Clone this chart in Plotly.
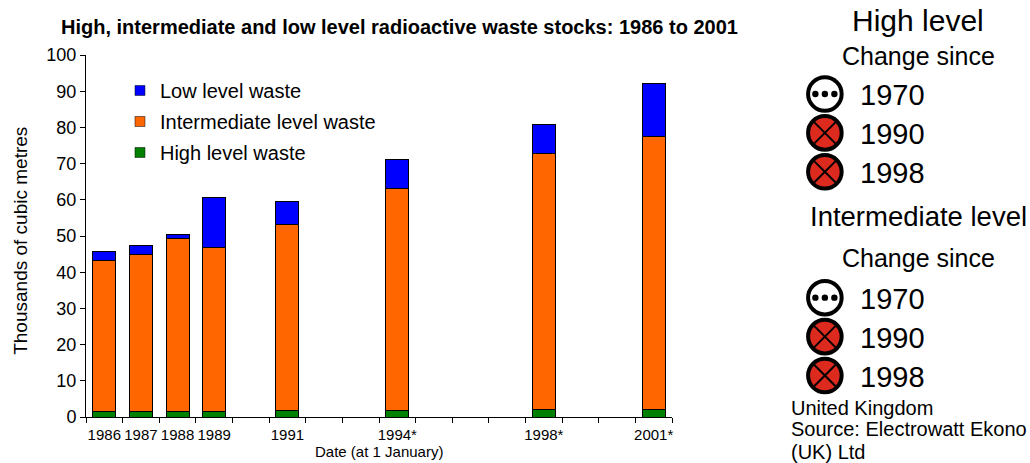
import plotly.graph_objects as go

years = [str(y) for y in range(1986, 2002)]
tick_labels = ["1986", "1987", "1988", "1989", "", "1991", "", "", "1994*", "", "", "", "1998*", "", "", "2001*"]
high = [1.4, 1.6, 1.6, 1.6, None, 1.8, None, None, 1.8, None, None, None, 2.0, None, None, 2.2]
intermediate = [41.7, 43.4, 47.8, 45.2, None, 51.5, None, None, 61.3, None, None, None, 70.7, None, None, 75.3]
low = [2.5, 2.5, 1.0, 13.8, None, 6.2, None, None, 7.9, None, None, None, 8.0, None, None, 14.7]

COL_LOW, COL_INT, COL_HIGH = "#0000FF", "#FF6600", "#008000"
FONT = "Liberation Sans"
W, H = 1030, 463
L, R, T, B = 85.5, 672, 55, 417.5

fx = lambda p: (p - L) / (R - L)
fy = lambda p: (B - p) / (B - T)

fig = go.Figure()
for name, vals, col in [("High level waste", high, COL_HIGH),
                        ("Intermediate level waste", intermediate, COL_INT),
                        ("Low level waste", low, COL_LOW)]:
    fig.add_bar(x=years, y=vals, name=name, marker=dict(color=col, line=dict(color="black", width=1)), showlegend=False)

for name, col in [("Low level waste", COL_LOW), ("Intermediate level waste", COL_INT), ("High level waste", COL_HIGH)]:
    fig.add_scatter(x=[None], y=[None], mode="markers", name=name, legendgroup=name,
                    marker=dict(symbol="square", size=10, color=col, line=dict(color="black", width=0.5)))

shapes, annotations = [], []


def text(x, y, s, size, anchor="left", angle=0):
    annotations.append(dict(x=fx(x), y=fy(y), xref="paper", yref="paper", text=s, showarrow=False, textangle=angle,
                            xanchor=anchor, yanchor="middle", font=dict(size=size, color="black", family=FONT)))


def circle(cx, cy, r, fill, lw):
    shapes.append(dict(type="circle", xref="paper", yref="paper", x0=fx(cx - r), x1=fx(cx + r), y0=fy(cy + r), y1=fy(cy - r),
                       fillcolor=fill, line=dict(color="black", width=lw)))


def line(x0, y0, x1, y1, lw):
    shapes.append(dict(type="line", xref="paper", yref="paper", x0=fx(x0), x1=fx(x1), y0=fy(y0), y1=fy(y1),
                       line=dict(color="black", width=lw)))


def icon_dots(cy):
    circle(825, cy, 16.8, "white", 4)
    for dx in (-9.5, 0, 9.5):
        circle(825 + dx, cy, 3.2, "black", 0)


def icon_cross(cy):
    circle(825, cy, 16.8, "#DC2A1E", 4)
    line(825 - 10.5, cy - 10.5, 825 + 10.5, cy + 10.5, 2)
    line(825 - 10.5, cy + 10.5, 825 + 10.5, cy - 10.5, 2)


text(918, 20, "High level", 30, "center")
text(919, 56, "Change since", 25, "center")
for cy, yr, icon in [(94, "1970", icon_dots), (133, "1990", icon_cross), (172, "1998", icon_cross),
                     (298, "1970", icon_dots), (337, "1990", icon_cross), (376, "1998", icon_cross)]:
    icon(cy)
    text(858, cy + 1, yr, 29)
text(918.5, 217, "Intermediate level", 27.5, "center")
text(919, 258, "Change since", 25, "center")
text(789, 408, "United Kingdom", 20)
text(789, 430, "Source: Electrowatt Ekono", 20)
text(789, 453, "(UK) Ltd", 20)
text(399, 27, "<b>High, intermediate and low level radioactive waste stocks: 1986 to 2001</b>", 20, "center")
text(379, 452, "Date (at 1 January)", 15, "center")
text(20, 241.5, "Thousands of cubic metres", 19, "center", -90)

fig.update_layout(
    width=W, height=H, barmode="stack", bargap=0.37, plot_bgcolor="white", paper_bgcolor="white",
    margin=dict(l=L, r=W - R, t=T, b=H - B, pad=0),
    font=dict(family=FONT, color="black"),
    shapes=shapes, annotations=annotations,
    legend=dict(x=fx(119.5), y=fy(71), xanchor="left", yanchor="top", bgcolor="rgba(0,0,0,0)",
                font=dict(size=20, family=FONT), tracegroupgap=2, traceorder="grouped", itemclick=False),
    xaxis=dict(type="category", categoryorder="array", categoryarray=years,
               tickmode="array", tickvals=years, ticktext=tick_labels, tickson="boundaries",
               range=[-0.5, 15.5], ticks="outside", ticklen=5, tickcolor="black", tickwidth=1,
               showgrid=False, showline=True, linecolor="black", linewidth=1, ticklabelstandoff=4,
               tickfont=dict(size=15), tickangle=0, automargin=False),
    yaxis=dict(range=[0, 100], tickvals=list(range(0, 101, 10)), ticks="outside", ticklen=5, tickcolor="black",
               showgrid=False, showline=True, linecolor="black", linewidth=1, zeroline=False,
               tickfont=dict(size=18), automargin=False),
)
fig.write_html("out.html", config=dict(displayModeBar=False),
               post_script="document.body.style.margin='0';document.body.style.overflow='hidden';")
